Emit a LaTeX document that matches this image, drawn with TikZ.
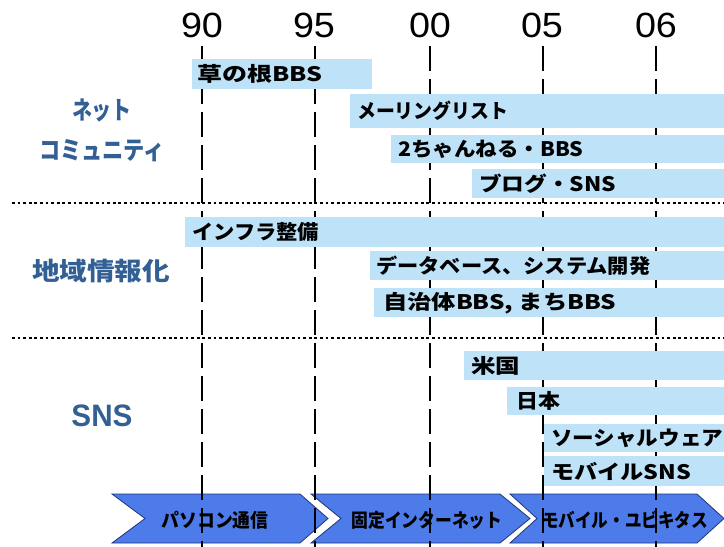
\documentclass[tikz,border=0pt]{standalone}
\usepackage{fontspec}
\usepackage{graphicx}
\setmainfont{Liberation Sans}
\newfontfamily\jp{Noto Sans CJK JP}
\definecolor{barblue}{RGB}{190,227,248}
\definecolor{chevfill}{RGB}{77,123,233}
\definecolor{chevdraw}{RGB}{30,55,120}
\definecolor{labelblue}{RGB}{50,96,148}
\newcommand\fw[2]{\resizebox{#1pt}{\height}{#2}}
\begin{document}
\begin{tikzpicture}[x=1pt,y=-1pt,
  year/.style={font=\fontsize{35}{35}\selectfont, inner sep=0},
  yearline/.style={line width=2.8pt, dash pattern=on 25pt off 8pt},
  sepline/.style={line width=2.8pt, dash pattern=on 2.8pt off 2.8pt},
  barbox/.style={fill=barblue, draw=none, inner sep=0, anchor=north west},
  bartext/.style={font=\jp\bfseries\fontsize{20}{20}\selectfont, inner sep=0, anchor=west},
  cat/.style={font=\jp\bfseries\fontsize{25}{25}\selectfont, text=labelblue, inner sep=0},
  chev/.style={fill=chevfill, draw=chevdraw, line width=0.8pt},
  chevtext/.style={font=\jp\bfseries\fontsize{19}{19}\selectfont, inner sep=0}]
\useasboundingbox[fill=white] (0,0) rectangle (724,547);

% chevrons
\draw[chev] (112,494) -- (300,494) -- (328,518.5) -- (300,543) -- (112,543) -- (145,518.5) -- cycle;
\draw[chev] (311,494) -- (500,494) -- (530,518.5) -- (500,543) -- (311,543) -- (341,518.5) -- cycle;
\draw[chev] (510,494) -- (697,494) -- (724,518.5) -- (697,543) -- (510,543) -- (537,518.5) -- cycle;

% year labels and lines
\node[year] (y90) at (202,25) {\fw{42}{90}};
\node[year] (y95) at (314,25) {\fw{42}{95}};
\node[year] (y00) at (430,25) {\fw{42}{00}};
\node[year] (y05) at (542,25) {\fw{42}{05}};
\node[year] (y06) at (656,25) {\fw{42}{06}};
\foreach \n/\x in {90/202,95/315,00/430,05/543,06/656}{
  \coordinate (t\n) at (\x,46);
  \coordinate (e\n) at (\x,547);
  \draw[yearline] (t\n) -- (e\n);
}

% separators
\coordinate (s1l) at (12,203); \coordinate (s1r) at (724,203);
\coordinate (s2l) at (12,338); \coordinate (s2r) at (724,338);
\draw[sepline] (s1l) -- (s1r);
\draw[sepline] (s2l) -- (s2r);

% bars
\node[barbox, minimum width=180pt, minimum height=30pt] (b1) at (192,59) {};
\node[barbox, minimum width=374pt, minimum height=34pt] (b2) at (350,94) {};
\node[barbox, minimum width=333pt, minimum height=28pt] (b3) at (391,135) {};
\node[barbox, minimum width=252pt, minimum height=29pt] (b4) at (472,169) {};
\node[barbox, minimum width=539pt, minimum height=30pt] (b5) at (185,217) {};
\node[barbox, minimum width=354pt, minimum height=29pt] (b6) at (370,251) {};
\node[barbox, minimum width=350pt, minimum height=29pt] (b7) at (374,288) {};
\node[barbox, minimum width=260pt, minimum height=29pt] (b8) at (464,351) {};
\node[barbox, minimum width=217pt, minimum height=28pt] (b9) at (507,387) {};
\node[barbox, minimum width=180pt, minimum height=28pt] (b10) at (544,424) {};
\node[barbox, minimum width=180pt, minimum height=30pt] (b11) at (544,456) {};

\node[bartext] (t1) at ([xshift=5pt]b1.west) {\fw{125}{草の根BBS}};
\node[bartext] (t2) at ([xshift=7pt]b2.west) {\fw{151}{メーリングリスト}};
\node[bartext] (t3) at ([xshift=7pt]b3.west) {\fw{185}{2ちゃんねる・BBS}};
\node[bartext] (t4) at ([xshift=7pt]b4.west) {\fw{137}{ブログ・SNS}};
\node[bartext] (t5) at ([xshift=7pt]b5.west) {\fw{127}{インフラ整備}};
\node[bartext] (t6) at ([xshift=6pt]b6.west) {\fw{274}{データベース、システム開発}};
\node[bartext] (t7) at ([xshift=9pt]b7.west) {\fw{233}{自治体BBS, まちBBS}};
\node[bartext] (t8) at ([xshift=7pt]b8.west) {\fw{49}{米国}};
\node[bartext] (t9) at ([xshift=9pt]b9.west) {\fw{44}{日本}};
\node[bartext] (t10) at ([xshift=7pt]b10.west) {\fw{172}{ソーシャルウェア}};
\node[bartext] (t11) at ([xshift=7pt]b11.west) {\fw{140}{モバイルSNS}};

% category labels
\node[cat] (net) at (102,110) {\fw{60}{ネット}};
\node[cat] (comm) at (102,151) {\fw{126}{コミュニティ}};
\node[cat] (chiiki) at (101,271) {\fw{138}{地域情報化}};
\node[cat, font=\bfseries\fontsize{31}{31}\selectfont] (sns) at (102,416) {\fw{61}{SNS}};

% chevron texts
\node[chevtext] (c1) at (215,520) {\fw{107}{パソコン通信}};
\node[chevtext] (c2) at (427,520) {\fw{151}{固定インターネット}};
\node[chevtext] (c3) at (625,520) {\fw{166}{モバイル・ユビキタス}};
\end{tikzpicture}
\end{document}
